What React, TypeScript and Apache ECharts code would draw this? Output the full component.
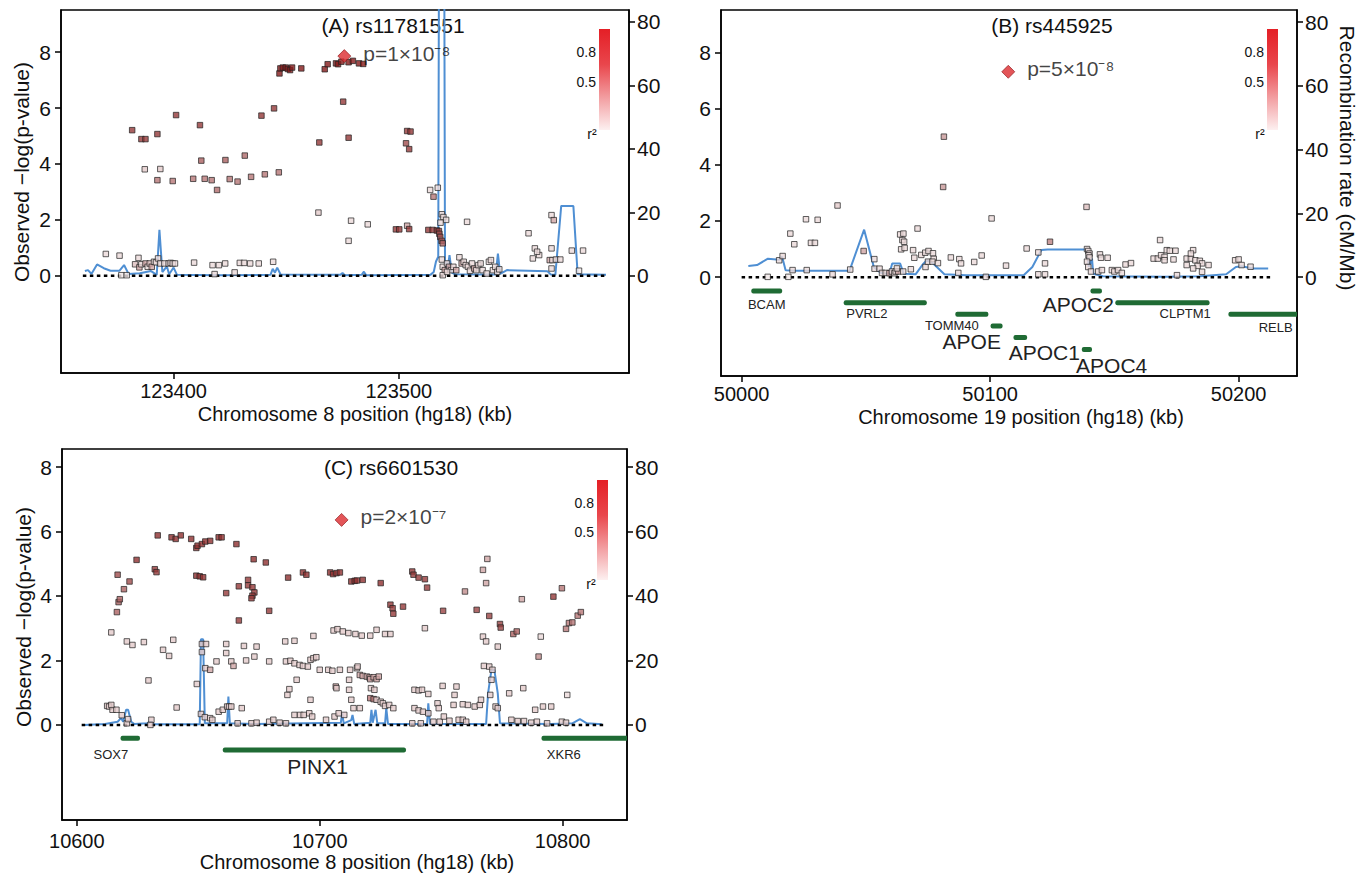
import React, { useEffect, useRef } from "react";
import * as echarts from "echarts";

const FONT = '"Liberation Sans", Arial, Helvetica, sans-serif';

// ---------------- Panel A : rs11781551 (chr 8) ----------------
const A_SNPS: number[][] = [
  // [position kb, -log10 p, r2]
  [123447.0, 7.24, 0.95], [123447.4, 7.42, 0.95], [123448.5, 7.45, 0.95], [123449.8, 7.45, 0.95],
  [123450.7, 7.4, 0.95], [123451.7, 7.36, 0.95], [123452.6, 7.45, 0.95], [123456.7, 7.42, 0.95],
  [123467.1, 7.39, 0.95], [123468.4, 7.57, 0.95], [123472.1, 7.6, 0.95], [123473.0, 7.57, 0.95],
  [123474.5, 7.66, 0.95], [123477.7, 7.64, 0.95], [123479.6, 7.69, 0.95], [123482.3, 7.6, 0.95],
  [123484.2, 7.58, 0.95],
  [123381.6, 5.21, 0.8], [123385.7, 4.89, 0.8], [123387.5, 4.89, 0.8], [123392.8, 5.07, 0.8],
  [123401.1, 5.75, 0.8], [123411.7, 5.39, 0.8], [123439.0, 5.73, 0.8], [123444.6, 5.99, 0.8],
  [123475.3, 6.23, 0.8], [123464.7, 4.77, 0.8], [123477.7, 4.94, 0.8], [123503.7, 5.18, 0.8],
  [123505.2, 5.16, 0.8], [123503.2, 4.74, 0.7], [123504.6, 4.53, 0.8],
  [123392.8, 3.42, 0.5], [123399.6, 3.39, 0.5], [123408.7, 3.47, 0.5], [123412.3, 4.12, 0.6],
  [123413.8, 3.47, 0.5], [123416.9, 3.42, 0.5], [123419.3, 3.07, 0.55], [123423.0, 4.14, 0.6],
  [123424.9, 3.46, 0.5], [123428.4, 3.37, 0.5], [123431.6, 4.3, 0.55], [123434.4, 3.54, 0.5],
  [123440.5, 3.63, 0.5], [123446.7, 3.7, 0.5], [123387.2, 3.81, 0.15], [123394.1, 3.82, 0.15],
  [123464.3, 2.26, 0.15], [123478.8, 1.97, 0.1], [123486.2, 1.84, 0.1], [123477.7, 1.25, 0.1],
  [123498.7, 1.66, 0.8], [123500.2, 1.66, 0.8], [123503.7, 1.79, 0.3], [123504.6, 1.67, 0.8],
  [123513.1, 1.64, 0.8], [123515.0, 1.64, 0.8], [123516.9, 1.62, 0.8], [123517.8, 1.6, 0.8],
  [123518.0, 1.5, 0.7], [123518.4, 1.39, 0.7], [123519.0, 1.25, 0.7], [123519.5, 1.16, 0.6],
  [123513.9, 3.07, 0.1], [123517.3, 3.15, 0.1], [123515.4, 2.83, 0.5],
  [123519.1, 2.2, 0.1], [123519.8, 2.1, 0.1], [123521.0, 2.0, 0.1], [123518.5, 1.9, 0.1],
  [123530.3, 1.93, 0.1], [123557.6, 1.52, 0.1], [123567.8, 2.17, 0.1], [123568.8, 1.99, 0.3],
  [123560.4, 0.98, 0.1], [123562.3, 0.74, 0.1], [123561.4, 0.86, 0.1], [123559.5, 0.62, 0.1],
  [123567.8, 0.98, 0.1], [123567.0, 0.56, 0.3], [123568.2, 0.56, 0.1], [123569.8, 0.58, 0.1],
  [123571.7, 0.58, 0.1], [123576.8, 0.9, 0.1], [123581.8, 0.9, 0.1], [123567.8, 0.26, 0.1],
  [123580.0, 0.18, 0.05],
  [123369.9, 0.78, 0.1], [123376.0, 0.72, 0.1], [123376.8, 0.02, 0.05], [123379.2, 0.02, 0.05],
  [123384.4, 0.64, 0.1], [123382.9, 0.41, 0.2], [123384.8, 0.3, 0.3], [123385.7, 0.41, 0.1],
  [123387.5, 0.44, 0.3], [123388.5, 0.32, 0.1], [123389.4, 0.44, 0.2], [123390.3, 0.32, 0.3],
  [123391.3, 0.5, 0.1], [123392.2, 0.48, 0.1], [123393.1, 0.62, 0.1], [123394.1, 0.44, 0.1],
  [123395.9, 0.44, 0.1], [123397.8, 0.44, 0.1], [123398.7, 0.46, 0.1], [123399.6, 0.44, 0.1],
  [123400.6, 0.44, 0.1], [123409.1, 0.47, 0.1], [123417.3, 0.38, 0.1], [123418.2, 0.06, 0.1],
  [123420.1, 0.38, 0.1], [123422.9, 0.44, 0.1], [123427.1, 0.12, 0.1], [123429.4, 0.46, 0.1],
  [123431.3, 0.46, 0.1], [123434.0, 0.44, 0.1], [123437.8, 0.44, 0.1], [123444.2, 0.5, 0.1],
  [123519.1, 0.58, 0.1], [123519.5, 0.32, 0.1], [123520.4, 0.2, 0.3], [123521.4, 0.44, 0.1],
  [123522.3, 0.32, 0.3], [123523.2, 0.2, 0.1], [123524.2, 0.32, 0.1], [123525.5, 0.2, 0.3],
  [123526.9, 0.66, 0.1], [123527.9, 0.44, 0.3], [123528.8, 0.5, 0.1], [123529.7, 0.38, 0.1],
  [123530.7, 0.32, 0.1], [123531.6, 0.18, 0.1], [123532.5, 0.44, 0.1], [123533.5, 0.26, 0.3],
  [123534.4, 0.2, 0.1], [123535.3, 0.38, 0.1], [123536.3, 0.44, 0.1], [123537.2, 0.2, 0.1],
  [123539.0, 0.08, 0.1], [123540.0, 0.5, 0.1], [123540.9, 0.56, 0.1], [123541.8, 0.2, 0.1],
  [123542.8, 0.32, 0.1], [123543.7, 0.14, 0.1], [123544.6, 0.23, 0.1], [123519.5, 0.02, 0.1],
  [123521.4, 0.14, 0.1],
];
const A_LEAD: number[][] = [[123475.8, 7.86]];
const A_LEAD_LABEL = "p=1×10⁻⁸";
const A_RECOMB: number[][] = [
  [123360.6, 1.5], [123362, 1.8], [123363.5, 0.6], [123366, 3.6], [123369, 2.4], [123372, 1.6],
  [123376, 1.6], [123378, 3.4], [123380, 0.6], [123385, 0.8], [123390, 1.5], [123392.5, 0.3],
  [123393.7, 14.5], [123395, 1.2], [123397, 3], [123398, 0.5], [123400, 2.6], [123401.5, 0.3],
  [123420, 0.2], [123443, 0.3], [123444, 2.2], [123445, 1.0], [123446, 2.6], [123447.5, 0.4],
  [123474, 0.3], [123475, 0.9], [123476, 0.2], [123483.5, 0.3], [123484.5, 1.3], [123485.5, 0.2],
  [123514, 0.3], [123515.5, 1.2], [123516.5, 4.5], [123517.5, 6], [123518, 150], [123520, 150],
  [123520.5, 5], [123521.5, 1.5], [123522.5, 6.5], [123523.5, 1], [123525, 0.5], [123543, 0.4],
  [123544, 7], [123545, 0.6], [123548, 1.8], [123566, 1.4], [123567.5, 0.4], [123569.5, 0.3],
  [123572.1, 22], [123577.5, 22], [123579.4, 0.5], [123592, 0.3],
];
const A_ZERO: number[][] = [[123359.7, 0], [123592, 0]];
const A_TICKS = [123400, 123500];

// ---------------- Panel B : rs445925 (chr 19) ----------------
const B_SNPS: number[][] = [
  [50010.5, 0.01, 0.05], [50015.1, 0.6, 0.1], [50016.5, 0.75, 0.1], [50018.8, 0.01, 0.05],
  [50019.6, 1.55, 0.1], [50021.2, 1.17, 0.1], [50020.5, 0.25, 0.1], [50025.9, 2.06, 0.1],
  [50030.6, 2.04, 0.1], [50027.9, 1.22, 0.1], [50029.5, 1.22, 0.1], [50026.2, 0.25, 0.1],
  [50036.6, 0.1, 0.1], [50038.6, 2.55, 0.15], [50043.7, 0.27, 0.1], [50049.1, 0.93, 0.3],
  [50053.4, 0.64, 0.1], [50053.5, 0.3, 0.1], [50055.5, 0.3, 0.1], [50056.5, 0.15, 0.1],
  [50058, 0.15, 0.1], [50059.5, 0.14, 0.3], [50060.5, 0.2, 0.1], [50061.5, 0.14, 0.1],
  [50062, 0.2, 0.1], [50063, 0.2, 0.3], [50062.5, 0.31, 0.1], [50065, 0.2, 0.1],
  [50063.8, 1.52, 0.1], [50065.1, 1.55, 0.1], [50064.7, 1.32, 0.1], [50065.4, 1.26, 0.1],
  [50064.2, 0.99, 0.1], [50065.6, 1.04, 0.1], [50070.8, 1.73, 0.1], [50068.1, 0.28, 0.1],
  [50069, 0.96, 0.1], [50069.5, 0.69, 0.1], [50072.3, 0.79, 0.1], [50073.9, 0.87, 0.1],
  [50075.2, 0.93, 0.1], [50074, 0.36, 0.1], [50075, 0.55, 0.1],
  [50081.4, 5.0, 0.35], [50081.1, 3.21, 0.35], [50100.6, 2.09, 0.1], [50138.8, 2.5, 0.2],
  [50124.1, 1.26, 0.45], [50114.7, 1.02, 0.1], [50119.4, 0.88, 0.1], [50122.1, 0.49, 0.1],
  [50119.4, 0.1, 0.1], [50122.1, 0.1, 0.1], [50106.4, 0.41, 0.1], [50098.3, 0.01, 0.1],
  [50077, 0.85, 0.1], [50077.3, 0.65, 0.1], [50076.8, 0.55, 0.1], [50079, 0.5, 0.1],
  [50084.2, 0.7, 0.1], [50087.6, 0.64, 0.1], [50088.3, 0.49, 0.1], [50093.6, 0.54, 0.1],
  [50096.6, 0.77, 0.1], [50087.2, 0.15, 0.1],
  [50139, 1.0, 0.1], [50139.5, 0.93, 0.1], [50140, 0.84, 0.1], [50139.6, 0.78, 0.1],
  [50140, 0.7, 0.1], [50139, 0.55, 0.1], [50139.5, 0.36, 0.1], [50140.6, 0.2, 0.1],
  [50144.2, 0.81, 0.1], [50144.6, 0.69, 0.1], [50147.3, 0.69, 0.1],
  [50143.5, 0.2, 0.1], [50145, 0.25, 0.1], [50149, 0.25, 0.1], [50150, 0.2, 0.1],
  [50151.5, 0.25, 0.1], [50153, 0.15, 0.1], [50154.5, 0.45, 0.1], [50156.7, 0.5, 0.1],
  [50168.4, 1.32, 0.1], [50165.8, 0.66, 0.1], [50167.5, 0.66, 0.1], [50168.8, 0.78, 0.1],
  [50170.2, 0.72, 0.1], [50171.1, 0.96, 0.1], [50172.3, 0.94, 0.1], [50174.6, 0.94, 0.1],
  [50170.2, 0.6, 0.1], [50173.8, 0.63, 0.1], [50175.2, 0.07, 0.1],
  [50179.1, 0.66, 0.1], [50180.8, 0.66, 0.1], [50181.7, 0.96, 0.1], [50180.8, 0.84, 0.1],
  [50182.6, 0.6, 0.1], [50184.4, 0.58, 0.1], [50185.3, 0.49, 0.1], [50187.9, 0.43, 0.1],
  [50179.1, 0.43, 0.1], [50183.5, 0.4, 0.1], [50185.3, 0.19, 0.1], [50181.7, 0.31, 0.1],
  [50198.6, 0.6, 0.1], [50200, 0.63, 0.1], [50201.2, 0.43, 0.1], [50204.8, 0.37, 0.1],
];
const B_LEAD: number[][] = [[50107.3, 7.31]];
const B_LEAD_LABEL = "p=5×10⁻⁸";
const B_RECOMB: number[][] = [
  [50002.7, 3.5], [50006.2, 3.8], [50010.6, 5.8], [50015.1, 5.5], [50016.3, 6.4], [50017.7, 2.2],
  [50021.3, 2.0], [50043.4, 2.0], [50049.3, 14.9], [50053.2, 3.2], [50055.9, 1.4], [50059.4, 0.9],
  [50060.6, 4.3], [50063.8, 4.3], [50065.2, 1.1], [50070, 0.9], [50072.7, 3.8], [50074.5, 5.3],
  [50077.1, 4.3], [50081.6, 0.9], [50090.4, 0.6], [50113.5, 0.6], [50117, 3.2], [50120.6, 8.5],
  [50123.2, 8.7], [50138.3, 8.7], [50139.2, 7.4], [50139.7, 3.2], [50141, 5.8], [50141.5, 1.1],
  [50145.4, 0.3], [50170.2, 0.1], [50184.4, 0.3], [50195, 0.9], [50198.9, 3.2], [50201.2, 3.4],
  [50205.7, 2.7], [50211.9, 2.7],
];
const B_ZERO: number[][] = [[50000, 0], [50213.6, 0]];
const B_TICKS = [50000, 50100, 50200];
// genes: start, end, track y, label x, label y, large label
const B_GENE_NAMES = ["BCAM", "PVRL2", "TOMM40", "APOE", "APOC1", "APOC2", "APOC4", "CLPTM1", "RELB"];
const B_GENES: number[][] = [
  [50003.9, 50016.3, -0.49, 50010.1, -0.96, 0],
  [50041.1, 50074.5, -0.91, 50050.4, -1.29, 0],
  [50086.0, 50099.3, -1.32, 50084.6, -1.71, 0],
  [50100.2, 50105.0, -1.74, 50092.6, -2.3, 1],
  [50109.4, 50114.9, -2.15, 50121.8, -2.69, 1],
  [50140.4, 50145.0, -0.49, 50135.5, -0.96, 1],
  [50136.9, 50141.0, -2.58, 50148.9, -3.13, 1],
  [50150.4, 50188.3, -0.91, 50178.5, -1.29, 0],
  [50195.9, 50240.0, -1.32, 50214.9, -1.79, 0],
];

// ---------------- Panel C : rs6601530 (chr 8) ----------------
const C_SNPS: number[][] = [
  [10633.3, 5.88, 0.85], [10639.0, 5.82, 0.85], [10640.7, 5.77, 0.85], [10642.8, 5.88, 0.85],
  [10647.1, 5.77, 0.85], [10649.2, 5.49, 0.85], [10649.7, 5.56, 0.85], [10651.5, 5.61, 0.85],
  [10652.9, 5.69, 0.85], [10654.9, 5.71, 0.85], [10658.4, 5.82, 0.85], [10659.6, 5.82, 0.85],
  [10665.7, 5.61, 0.85], [10672.8, 5.14, 0.85], [10677.8, 5.04, 0.85], [10624.6, 5.12, 0.85],
  [10632.1, 4.83, 0.8], [10632.8, 4.74, 0.8], [10616.8, 4.66, 0.7], [10621.7, 4.45, 0.7],
  [10619.4, 4.21, 0.6], [10617.2, 3.81, 0.6], [10617.7, 3.9, 0.6], [10616.5, 3.5, 0.6],
  [10649.2, 4.63, 0.85], [10650.6, 4.61, 0.85], [10652.0, 4.58, 0.85], [10661.5, 4.09, 0.8],
  [10666.7, 4.3, 0.8], [10670.5, 4.5, 0.8], [10670.5, 4.33, 0.8], [10672.3, 4.27, 0.8],
  [10673.1, 4.11, 0.8], [10672.3, 4.01, 0.8], [10671.9, 3.93, 0.8], [10666.7, 3.24, 0.8],
  [10679.2, 3.54, 0.8], [10687.0, 4.57, 0.85], [10693.1, 4.73, 0.85], [10694.5, 4.66, 0.85],
  [10704.3, 4.73, 0.85], [10705.5, 4.68, 0.85], [10706.9, 4.71, 0.85], [10708.3, 4.73, 0.85],
  [10713.0, 4.45, 0.85], [10714.4, 4.47, 0.85], [10715.3, 4.48, 0.85], [10717.7, 4.5, 0.85],
  [10725.1, 4.4, 0.85], [10729.1, 3.73, 0.8], [10730.0, 3.62, 0.8], [10730.3, 3.45, 0.8],
  [10734.3, 3.67, 0.8], [10738.1, 4.76, 0.8], [10738.6, 4.66, 0.8], [10740.7, 4.57, 0.8],
  [10743.3, 4.52, 0.8], [10744.2, 4.26, 0.8], [10750.8, 3.54, 0.75], [10759.8, 4.14, 0.4],
  [10764.6, 3.57, 0.75], [10767.2, 4.81, 0.3], [10769.0, 5.15, 0.3], [10768.5, 4.4, 0.3],
  [10769.8, 3.38, 0.75], [10774.2, 3.13, 0.75], [10774.5, 3.02, 0.75], [10779.7, 2.82, 0.6],
  [10781.1, 2.9, 0.6], [10783.2, 3.9, 0.3], [10791.0, 2.74, 0.1], [10796.2, 3.98, 0.8],
  [10799.7, 4.24, 0.5], [10801.4, 2.98, 0.5], [10802.6, 3.16, 0.5], [10804.0, 3.18, 0.5],
  [10806.2, 3.39, 0.5], [10807.5, 3.5, 0.5], [10790.1, 2.12, 0.4], [10801.9, 0.93, 0.1],
  [10614.2, 2.87, 0.15], [10620.6, 2.59, 0.15], [10622.9, 2.48, 0.15], [10627.6, 2.57, 0.15],
  [10629.5, 1.38, 0.15], [10635.5, 2.33, 0.15], [10638.0, 2.14, 0.15], [10639.7, 2.64, 0.15],
  [10641.1, 0.54, 0.15], [10649.4, 1.27, 0.15], [10651.5, 2.51, 0.15], [10653.2, 2.51, 0.15],
  [10651.5, 2.26, 0.15], [10652.9, 1.76, 0.15], [10654.9, 1.71, 0.3], [10657.5, 1.97, 0.15],
  [10661.5, 2.51, 0.15], [10661.5, 2.23, 0.15], [10663.6, 1.97, 0.15], [10664.5, 1.83, 0.3],
  [10668.8, 2.45, 0.15], [10669.7, 2.0, 0.15], [10673.1, 2.12, 0.15], [10674.0, 2.43, 0.15],
  [10679.2, 1.97, 0.15], [10685.8, 2.59, 0.15], [10689.6, 2.61, 0.15], [10697.4, 2.76, 0.15],
  [10686.1, 1.97, 0.15], [10687.9, 1.99, 0.15], [10689.6, 1.91, 0.15], [10691.7, 1.86, 0.15],
  [10693.1, 1.83, 0.15], [10695.1, 1.81, 0.15], [10696.2, 2.02, 0.15], [10697.4, 2.07, 0.15],
  [10698.6, 2.1, 0.15], [10696.2, 0.78, 0.15], [10686.7, 0.93, 0.15], [10687.5, 1.11, 0.15],
  [10690.5, 1.4, 0.15], [10700.0, 1.71, 0.15], [10703.5, 1.71, 0.15], [10705.2, 1.68, 0.15],
  [10708.3, 1.71, 0.15], [10706.6, 1.19, 0.3], [10706.9, 1.14, 0.15], [10712.5, 1.71, 0.15],
  [10715.3, 1.76, 0.15], [10715.6, 1.81, 0.15], [10705.7, 2.93, 0.15], [10707.3, 2.97, 0.15],
  [10709.5, 2.9, 0.15], [10711.8, 2.85, 0.15], [10714.7, 2.82, 0.15], [10717.3, 2.77, 0.15],
  [10720.8, 2.77, 0.15], [10723.4, 2.95, 0.15], [10726.9, 2.82, 0.15], [10729.1, 2.82, 0.15],
  [10712.1, 1.4, 0.15], [10712.1, 1.09, 0.15], [10713.0, 0.78, 0.15], [10713.9, 0.52, 0.15],
  [10716.5, 0.52, 0.15], [10716.5, 1.55, 0.3], [10717.7, 1.52, 0.3], [10719.4, 1.5, 0.3],
  [10720.5, 1.47, 0.3], [10720.8, 1.42, 0.3], [10722.2, 1.48, 0.3], [10723.4, 1.42, 0.3],
  [10724.3, 1.5, 0.3], [10721.1, 1.14, 0.15], [10722.5, 1.09, 0.15], [10720.8, 0.83, 0.5],
  [10722.2, 0.8, 0.5], [10723.4, 0.78, 0.15], [10725.1, 0.72, 0.15], [10726.0, 0.67, 0.15],
  [10726.9, 0.59, 0.15], [10728.6, 0.62, 0.15], [10730.3, 0.52, 0.15], [10739.0, 1.09, 0.15],
  [10740.7, 1.07, 0.15], [10742.1, 1.09, 0.15], [10744.7, 0.96, 0.15], [10743.3, 3.0, 0.15],
  [10750.6, 1.21, 0.15], [10748.5, 0.67, 0.15], [10749.0, 0.52, 0.15], [10755.1, 0.62, 0.15],
  [10755.5, 0.93, 0.15], [10756.3, 1.19, 0.15], [10739.0, 0.52, 0.15], [10740.7, 0.45, 0.15],
  [10742.5, 0.41, 0.15], [10744.7, 0.36, 0.15], [10758.9, 0.64, 0.15], [10761.0, 0.62, 0.15],
  [10763.8, 0.57, 0.15], [10765.9, 0.62, 0.15], [10766.4, 0.78, 0.15], [10767.2, 2.74, 0.15],
  [10768.5, 2.59, 0.15], [10773.3, 2.43, 0.15], [10767.6, 1.83, 0.15], [10769.8, 1.81, 0.15],
  [10771.1, 1.71, 0.15], [10770.7, 1.4, 0.15], [10770.2, 0.93, 0.15], [10772.4, 0.57, 0.15],
  [10773.3, 0.52, 0.15], [10778.0, 0.98, 0.15], [10783.8, 1.14, 0.15], [10788.7, 0.47, 0.15],
  [10791.9, 0.57, 0.15], [10795.3, 0.57, 0.15], [10778.9, 0.16, 0.15], [10781.5, 0.12, 0.15],
  [10784.1, 0.12, 0.15], [10787.1, 0.07, 0.15], [10789.4, 0.1, 0.15],
  [10612.5, 0.59, 0.15], [10613.3, 0.57, 0.15], [10614.7, 0.47, 0.15], [10616.3, 0.47, 0.15],
  [10614.2, 0.62, 0.15], [10618.5, 0.3, 0.15], [10620.6, 0.05, 0.15], [10621.1, 0.18, 0.15],
  [10630.7, 0.16, 0.15], [10630.3, 0.0, 0.15], [10651.1, 0.34, 0.15], [10652.7, 0.24, 0.15],
  [10654.9, 0.21, 0.15], [10655.8, 0.16, 0.15], [10658.4, 0.41, 0.15], [10660.1, 0.47, 0.15],
  [10661.9, 0.57, 0.15], [10662.7, 0.57, 0.15], [10663.6, 0.57, 0.15], [10667.9, 0.52, 0.15],
  [10666.2, 0.05, 0.15], [10671.9, 0.05, 0.15], [10674.0, 0.07, 0.15], [10679.2, 0.1, 0.15],
  [10680.9, 0.16, 0.15], [10683.5, 0.07, 0.15], [10686.1, 0.05, 0.15], [10689.6, 0.31, 0.15],
  [10691.9, 0.31, 0.15], [10693.4, 0.31, 0.15], [10695.7, 0.36, 0.15], [10696.9, 0.26, 0.15],
  [10702.6, 0.16, 0.15], [10706.1, 0.26, 0.15], [10707.8, 0.36, 0.15], [10710.1, 0.31, 0.15],
  [10738.1, 0.05, 0.15], [10741.6, 0.05, 0.15], [10746.8, 0.1, 0.15], [10749.4, 0.1, 0.15],
  [10751.1, 0.26, 0.15], [10753.4, 0.13, 0.15], [10757.2, 0.16, 0.15], [10758.9, 0.16, 0.15],
  [10760.3, 0.1, 0.15], [10793.6, 0.05, 0.15], [10799.7, 0.1, 0.15], [10801.4, 0.07, 0.15],
];
const C_LEAD: number[][] = [[10709.0, 6.36]];
const C_LEAD_LABEL = "p=2×10⁻⁷";
const C_RECOMB: number[][] = [
  [10602.9, 0], [10611.6, 0.3], [10616.8, 1.0], [10618.2, 2.1], [10619.1, 1.0], [10620.3, 4.7],
  [10621.1, 4.7], [10622.4, 1.0], [10623.7, 0.3], [10628.9, 0.5], [10630.7, 1], [10631.5, 0.2],
  [10650.6, 0.2], [10651.1, 26.6], [10652, 26.6], [10652.7, 0.5], [10661.9, 0.5], [10662.4, 8.8],
  [10663, 0.5], [10673.1, 0.3], [10708.7, 0.7], [10709.2, 3.6], [10709.9, 0.5], [10713, 1.5],
  [10713.5, 3.1], [10714.2, 0.3], [10720.8, 0.7], [10721.3, 4.7], [10721.8, 0.7], [10723, 4.7],
  [10723.7, 0.5], [10726.9, 0.5], [10727.4, 5.2], [10728.1, 0.3], [10744.2, 0.3], [10744.7, 6.7],
  [10745.4, 0.3], [10768.5, 0.3], [10769.3, 9.8], [10770.7, 17.1], [10771.9, 17.1], [10773.3, 9.8],
  [10774.2, 0.5], [10795.3, 0.3], [10804, 0.5], [10807.1, 1.8], [10810, 0.5], [10816.1, 0.2],
];
const C_ZERO: number[][] = [[10602, 0], [10817.8, 0]];
const C_TICKS = [10600, 10700, 10800];
const C_GENE_NAMES = ["SOX7", "PINX1", "XKR6"];
const C_GENES: number[][] = [
  [10618.0, 10626.0, -0.41, 10614.0, -0.93, 0],
  [10660.1, 10735.5, -0.78, 10699.1, -1.29, 1],
  [10791.3, 10840.0, -0.41, 10800.5, -0.93, 0],
];

const LEFT_TICKS = [0, 2, 4, 6, 8];
const RIGHT_TICKS = [0, 20, 40, 60, 80];

const RED_END = [128, 18, 18];
function r2Color(r2: number): string {
  const t = Math.pow(Math.max(0, Math.min(1, r2)), 0.8);
  const c = [0, 1, 2].map((i) => Math.round(255 + (RED_END[i] - 255) * t));
  return `rgb(${c[0]},${c[1]},${c[2]})`;
}

const TXT = "#111";

function buildOption() {
  const panels = [
    {
      grid: { left: 61, top: 10, width: 568, height: 363 },
      xr: [123350, 123602.2], xt: A_TICKS, yl: [-3.48, 9.51], yr: [-30.6, 83.7],
      snps: A_SNPS, lead: A_LEAD, leadLabel: A_LEAD_LABEL, recomb: A_RECOMB, zero: A_ZERO,
      genes: [] as number[][], names: [] as string[], xm: 8,
    },
    {
      grid: { left: 721, top: 10, width: 576, height: 366 },
      xr: [49991.7, 50223.5], xt: B_TICKS, yl: [-3.52, 9.51], yr: [-31, 83.8],
      snps: B_SNPS, lead: B_LEAD, leadLabel: B_LEAD_LABEL, recomb: B_RECOMB, zero: B_ZERO,
      genes: B_GENES, names: B_GENE_NAMES, xm: 8,
    },
    {
      grid: { left: 62, top: 449, width: 565, height: 371 },
      xr: [10593.9, 10826.5], xt: C_TICKS, yl: [-2.95, 8.56], yr: [-29.5, 85.6],
      snps: C_SNPS, lead: C_LEAD, leadLabel: C_LEAD_LABEL, recomb: C_RECOMB, zero: C_ZERO,
      genes: C_GENES, names: C_GENE_NAMES, xm: 11,
    },
  ];

  const grid: any[] = [];
  const xAxis: any[] = [];
  const yAxis: any[] = [];
  const series: any[] = [];

  const lbl = (size: number, margin: number, values: number[]) => ({
    show: true, fontSize: size, fontFamily: FONT, color: TXT, margin, customValues: values,
    formatter: (v: number) => String(v),
  });
  const tick = (values: number[]) => ({
    show: true, inside: false, length: 6, customValues: values, lineStyle: { color: "#000", width: 1.5 },
  });
  const line = { show: true, onZero: false, lineStyle: { color: "#000", width: 1.5 } };

  panels.forEach((p, i) => {
    grid.push({ ...p.grid, show: true, borderColor: "#000", borderWidth: 1.5, backgroundColor: "transparent", containLabel: false });
    xAxis.push({
      type: "value", gridIndex: i, min: p.xr[0], max: p.xr[1],
      axisLine: line, axisTick: tick(p.xt), axisLabel: lbl(20, p.xm, p.xt), splitLine: { show: false },
    });
    yAxis.push({
      type: "value", gridIndex: i, min: p.yl[0], max: p.yl[1], position: "left",
      axisLine: line, axisTick: tick(LEFT_TICKS), axisLabel: lbl(21, 10, LEFT_TICKS), splitLine: { show: false },
    });
    yAxis.push({
      type: "value", gridIndex: i, min: p.yr[0], max: p.yr[1], position: "right",
      axisLine: line, axisTick: tick(RIGHT_TICKS), axisLabel: lbl(21, 8, RIGHT_TICKS), splitLine: { show: false },
    });
    const yl = i * 2;
    const yr = i * 2 + 1;
    series.push({
      type: "line", xAxisIndex: i, yAxisIndex: yr, data: p.recomb, showSymbol: false, symbol: "none",
      clip: true, lineStyle: { color: "#4f8fd3", width: 2 }, z: 2, silent: true,
    });
    series.push({
      type: "line", xAxisIndex: i, yAxisIndex: yl, data: p.zero, showSymbol: false, symbol: "none",
      lineStyle: { color: "#000", width: 2.5, type: [3.5, 3.5] }, z: 3, silent: true,
    });
    series.push({
      type: "scatter", xAxisIndex: i, yAxisIndex: yl, symbol: "rect", symbolSize: 5.5,
      data: p.snps.map((d) => ({ value: d })),
      itemStyle: { color: (pr: any) => r2Color(pr.value[2]), borderColor: "#222", borderWidth: 0.9 },
      z: 4, silent: true,
    });
    series.push({
      type: "scatter", xAxisIndex: i, yAxisIndex: yl, symbol: "diamond", symbolSize: [13, 13],
      data: p.lead,
      itemStyle: { color: "#dc2a2e", borderColor: "#8a1518", borderWidth: 0.8 },
      label: {
        show: true, position: "right", distance: 12, formatter: p.leadLabel,
        fontSize: 21, fontFamily: FONT, color: TXT, offset: [0, -3],
      },
      z: 5, silent: true,
    });
    if (p.genes.length) {
      const names = p.names;
      series.push({
        type: "custom", xAxisIndex: i, yAxisIndex: yl, clip: true, silent: true, z: 3,
        data: p.genes,
        encode: { x: [0, 1, 3], y: [2, 4] },
        renderItem: (params: any, api: any) => {
          const s = api.coord([api.value(0), api.value(2)]);
          const e = api.coord([api.value(1), api.value(2)]);
          const l = api.coord([api.value(3), api.value(4)]);
          const big = api.value(5) === 1;
          return {
            type: "group",
            children: [
              { type: "rect", shape: { x: s[0], y: s[1] - 2.5, width: e[0] - s[0], height: 5, r: 2 }, style: { fill: "#1f6b34" } },
              {
                type: "text", x: l[0], y: l[1],
                style: {
                  text: names[params.dataIndex], fill: "#222", fontSize: big ? 21 : 13, fontFamily: FONT,
                  align: "center", verticalAlign: "middle", textAlign: "center", textVerticalAlign: "middle",
                },
              },
            ],
          };
        },
      });
    }
  });

  const txt = (text: string, x: number, y: number, size: number, rot = 0, align = "center") => ({
    type: "text", x, y, rotation: rot, silent: true,
    style: {
      text, fill: TXT, fontSize: size, fontFamily: FONT,
      align, verticalAlign: "middle", textAlign: align, textVerticalAlign: "middle",
    },
  });
  const bar = (x: number, y: number, h: number) => ({
    type: "rect", shape: { x, y, width: 11, height: h }, silent: true,
    style: {
      fill: new echarts.graphic.LinearGradient(0, 0, 0, 1, [
        { offset: 0, color: "#e41f26" },
        { offset: 0.35, color: "#e9464c" },
        { offset: 0.7, color: "#f3a3a6" },
        { offset: 1, color: "#fdf0f0" },
      ]),
    },
  });

  const graphic: any[] = [
    txt("(A) rs11781551", 393, 25, 21),
    txt("(B) rs445925", 1052, 25, 21),
    txt("(C) rs6601530", 391, 467, 21),
    txt("Observed −log(p-value)", 21, 172, 21, Math.PI / 2),
    txt("Observed −log(p-value)", 23, 617, 21, Math.PI / 2),
    txt("Recombination rate (cM/Mb)", 1347, 158, 21, -Math.PI / 2),
    txt("Chromosome 8 position (hg18) (kb)", 355, 414, 20),
    txt("Chromosome 19 position (hg18) (kb)", 1021, 417, 20),
    txt("Chromosome 8 position (hg18) (kb)", 357, 862, 20),
    bar(599, 29, 101),
    txt("0.8", 596, 52, 14, 0, "right"),
    txt("0.5", 596, 82, 14, 0, "right"),
    txt("r²", 592, 134, 14),
    bar(1267, 29, 101),
    txt("0.8", 1264, 52, 14, 0, "right"),
    txt("0.5", 1264, 82, 14, 0, "right"),
    txt("r²", 1260, 134, 14),
    bar(597, 480, 100),
    txt("0.8", 594, 503, 14, 0, "right"),
    txt("0.5", 594, 532, 14, 0, "right"),
    txt("r²", 591, 584, 14),
  ];

  return {
    animation: false,
    backgroundColor: "#fff",
    textStyle: { fontFamily: FONT },
    grid, xAxis, yAxis, series, graphic,
  };
}

export default function App() {
  const ref = useRef<HTMLDivElement>(null);
  useEffect(() => {
    if (!ref.current) return;
    const chart = echarts.init(ref.current, null, { renderer: "svg" });
    chart.setOption(buildOption() as any);
    return () => chart.dispose();
  }, []);
  return (
    <div
      ref={ref}
      style={{ position: "absolute", left: 0, top: 0, width: 1371, height: 873, background: "#fff" }}
    />
  );
}
